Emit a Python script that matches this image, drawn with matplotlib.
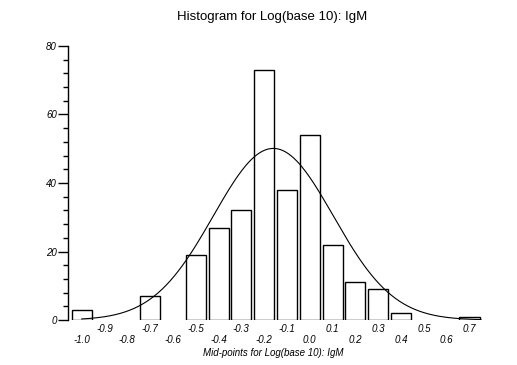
import numpy as np
import matplotlib
matplotlib.use('Agg')
import matplotlib.pyplot as plt

# histogram of log10(IgM), mid-points and counts
midpoints = [-1.0, -0.9, -0.8, -0.7, -0.6, -0.5, -0.4, -0.3, -0.2, -0.1,
             0.0, 0.1, 0.2, 0.3, 0.4, 0.5, 0.6, 0.7]
counts = [3, 0, 0, 7, 0, 19, 27, 32, 73, 38, 54, 22, 11, 9, 2, 0, 0, 1]
tick_labels = ['-1.0', '-0.9', '-0.8', '-0.7', '-0.6', '-0.5', '-0.4', '-0.3', '-0.2',
               '-0.1', '0.0', '0.1', '0.2', '0.3', '0.4', '0.5', '0.6', '0.7']

# fitted normal curve
curve_mean = -0.16
curve_sd = 0.263
curve_peak = 50.1

plt.rcParams['font.family'] = ['Liberation Sans', 'DejaVu Sans']

fig = plt.figure(figsize=(5.17, 3.65), dpi=100)
ax = fig.add_axes([68 / 517, 45 / 365, 417 / 517, 274 / 365])

xs = [m for m, c in zip(midpoints, counts) if c > 0]
hs = [c for c in counts if c > 0]
ax.bar(xs, hs, width=0.088, color='white', edgecolor='black', linewidth=1.0)

gx = np.linspace(-1.0, 0.75, 300)
gy = curve_peak * np.exp(-0.5 * ((gx - curve_mean) / curve_sd) ** 2)
ax.plot(gx, gy, color='black', linewidth=0.8)

ax.set_xlim(-1.060, 0.768)
ax.set_ylim(0, 80)

for s in ['top', 'right', 'bottom']:
    ax.spines[s].set_visible(False)
ax.spines['left'].set_linewidth(1.0)

ax.set_yticks([0, 20, 40, 60, 80])
ax.set_yticks(np.arange(0, 81, 4), minor=True)
ax.tick_params(axis='y', which='major', length=7, width=1.0, pad=1, labelsize=7)
ax.tick_params(axis='y', which='minor', length=3.5, width=1.0)
for lab in ax.get_yticklabels():
    lab.set_fontstyle('italic')

# x labels staggered on two rows
upper = list(range(1, len(midpoints), 2))
lower = list(range(0, len(midpoints), 2))
ax.set_xticks([midpoints[i] for i in lower])
ax.set_xticklabels([tick_labels[i] for i in lower], fontstyle='italic')
ax.set_xticks([midpoints[i] for i in upper], minor=True)
ax.set_xticklabels([tick_labels[i] for i in upper], minor=True, fontstyle='italic')
ax.tick_params(axis='x', which='major', length=0, pad=11, labelsize=7)
ax.tick_params(axis='x', which='minor', length=0, pad=3, labelsize=7)

fig.text(272 / 517, 1 - 17 / 365, 'Histogram for Log(base 10): IgM',
         ha='center', va='center', fontsize=9.5)
fig.text(273 / 517, 1 - 353 / 365, 'Mid-points for Log(base 10): IgM',
         ha='center', va='center', fontsize=7, fontstyle='italic')

fig.savefig('out.png', dpi=100)
